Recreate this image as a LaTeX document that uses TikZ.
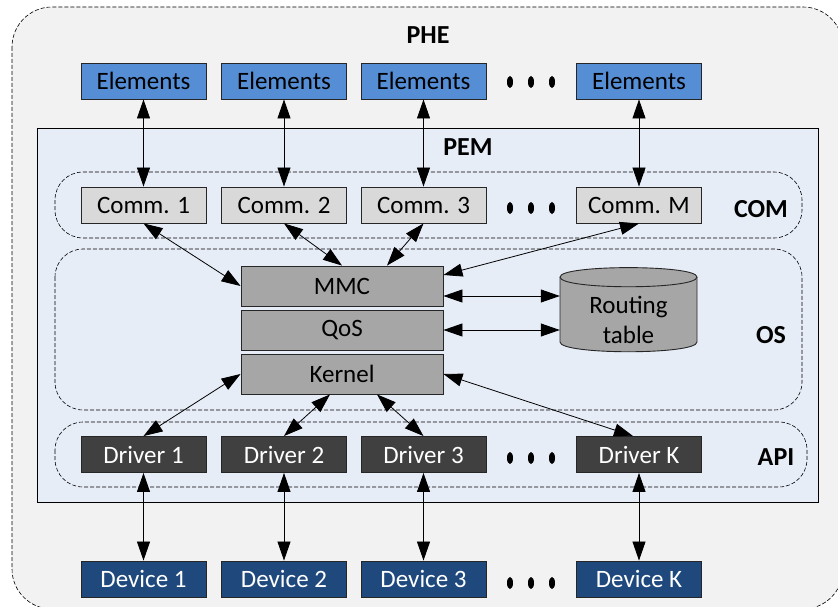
\documentclass[tikz,border=0pt]{standalone}
\usepackage{fontspec}
\setmainfont{Carlito}
\usetikzlibrary{arrows.meta}

\definecolor{pheback}{HTML}{F2F2F2}
\definecolor{pemback}{HTML}{E7EDF7}
\definecolor{elemblue}{HTML}{558ED5}
\definecolor{commgray}{HTML}{D9D9D9}
\definecolor{osgray}{HTML}{A6A6A6}
\definecolor{drvgray}{HTML}{404040}
\definecolor{devblue}{HTML}{1F497D}

\begin{document}
\begin{tikzpicture}[x=1pt,y=-1pt,
    font=\fontsize{25}{30}\selectfont,
    box/.style={draw=black!85, line width=0.9pt, minimum width=125pt, minimum height=36pt, inner sep=0pt},
    elem/.style={box, fill=elemblue},
    comm/.style={box, fill=commgray},
    layer/.style={box, fill=osgray, minimum width=202pt, minimum height=40pt},
    driver/.style={box, fill=drvgray, text=white},
    device/.style={box, fill=devblue, text=white},
    zone/.style={draw, dashed, dash pattern=on 4pt off 2pt, line width=0.6pt, rounded corners=28pt},
    title/.style={font=\fontsize{26}{30}\selectfont\bfseries},
    link/.style={<->, >={Triangle[width=13pt,length=19pt]}, line width=0.8pt}]

        \useasboundingbox (0,0) rectangle (838,607);

        % frames
        \draw[fill=pheback, dashed, dash pattern=on 4pt off 2pt, line width=0.6pt, rounded corners=40pt] (12,7) rectangle (843,609);
        \draw[fill=pemback, line width=0.9pt] (37,128) rectangle (818,502);
        \draw[zone] (55,172) rectangle (802,238);
        \draw[zone] (55,249) rectangle (802,410);
        \draw[zone] (55,422) rectangle (807,487);

        \node[title] (phe) at (428,35)  {PHE};
        \node[title] (pem) at (468,147) {PEM};
        \node[title] (com) at (761,209) {COM};
        \node[title] (os)  at (771,335) {OS};
        \node[title] (api) at (776,457) {API};

        % elements and comms
        \foreach \n/\x/\k in {1/143.5/1, 2/284/2, 3/423.5/3, 4/639/M} {
          \node[elem] (el\n) at (\x,81)  {Elements};
          \node[comm] (cm\n) at (\x,205) {Comm. \k};
          \draw[link] (el\n) -- (cm\n);
        }

        % drivers and devices
        \foreach \n/\x/\k in {1/143.5/1, 2/284/2, 3/423.5/3, 4/639/K} {
          \node[driver] (dr\n) at (\x,454.5) {Driver \k};
          \node[device] (dv\n) at (\x,579)   {Device \k};
          \draw[link] (dr\n) -- (dv\n);
        }

        % dots
        \foreach \y in {82,208,458,583}
          \foreach \x in {510,531,552}
            \fill (\x,\y) ellipse [x radius=3, y radius=6];

        % os layers
        \node[layer] (mmc) at (342,286) {MMC};
        \node[layer] (qos) at (342,330) {QoS};
        \node[layer] (krn) at (342,374) {Kernel};

        % routing table
        \draw[fill=osgray, draw=black!85, line width=0.9pt]
          (560,277) -- (560,342) .. controls (560,355) and (697,355) .. (697,342)
          -- (697,277) .. controls (697,264.5) and (560,264.5) .. (560,277) -- cycle;
        \draw[draw=black!85, line width=0.9pt] (560,277) .. controls (560,290) and (697,290) .. (697,277);
        \node[align=center, inner sep=0pt, minimum width=137pt] (rt) at (628.5,320) {Routing\\table};

        % links
        \draw[link] (cm1.south) -- (mmc.west);
        \draw[link] (cm2.south) -- (mmc.north);
        \draw[link] (cm3.south) -- ([xshift=45pt]mmc.north);
        \draw[link] (cm4.south) -- ([yshift=11pt]mmc.east);
        \coordinate (mr) at ([yshift=-10pt]mmc.east);
        \draw[link] (mr) -- (mr -| rt.west);
        \draw[link] (qos.east) -- (qos.east -| rt.west);
        \draw[link] (krn.west) -- (dr1.north);
        \draw[link] ([xshift=-12pt]krn.south) -- (dr2.north);
        \draw[link] ([xshift=35pt]krn.south) -- (dr3.north);
        \draw[link] (krn.east) -- ([xshift=-6pt]dr4.north);

      \end{tikzpicture}
\end{document}
